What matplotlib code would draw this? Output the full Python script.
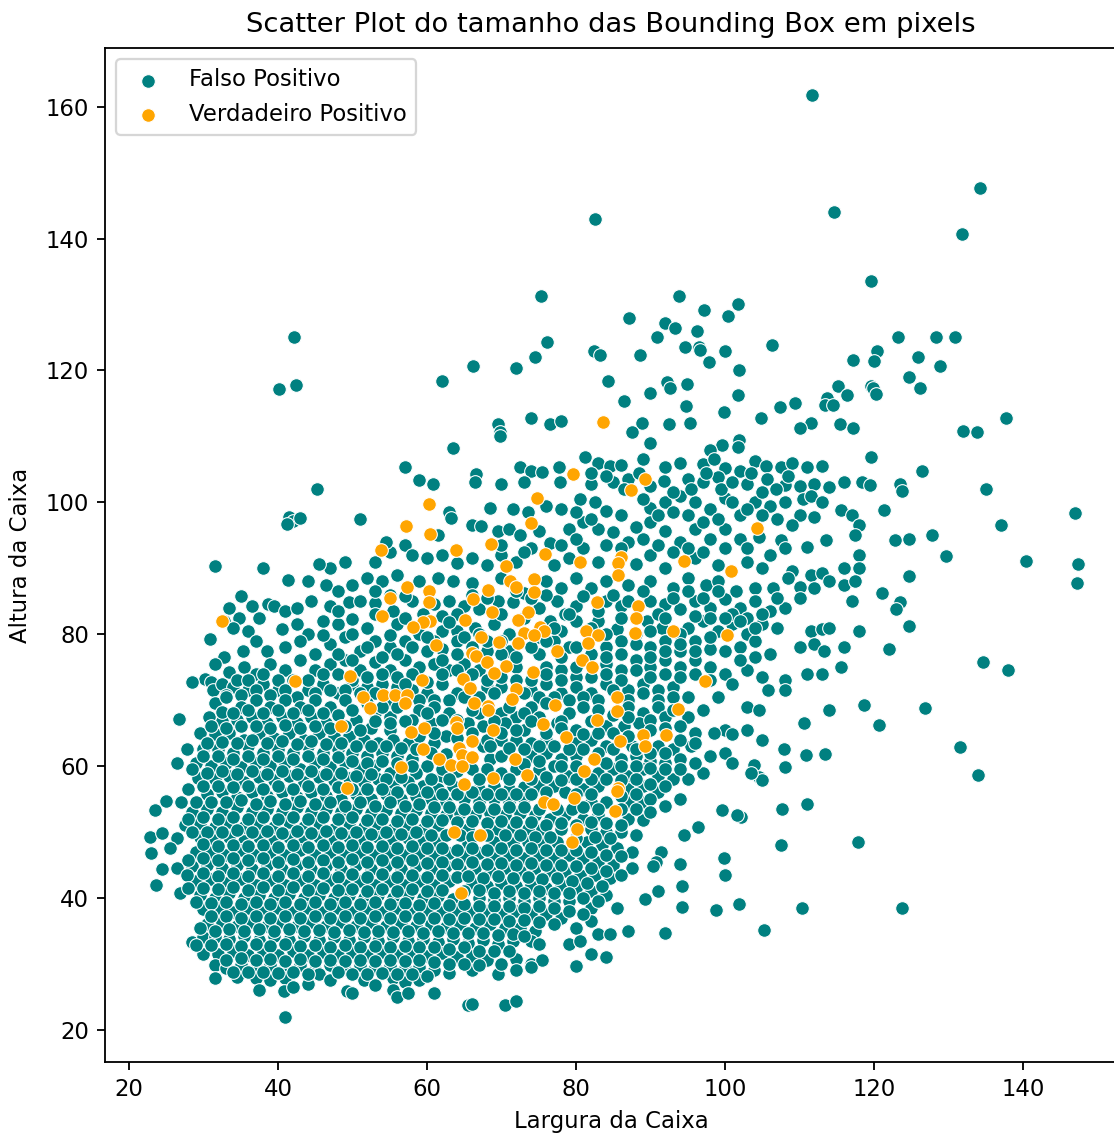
# scatter of bounding box sizes, false vs true positives
import matplotlib
matplotlib.use("Agg")
import matplotlib.pyplot as plt
import numpy as np

TEAL = "#008080"
ORANGE = "orange"

# (largura, altura), split by area of the cloud
fp_topo = [(111.7,161.8),(134.2,147.7),(82.6,142.9),(114.6,144),(131.8,140.7),(119.6,133.5),(75.3,131.3),(93.8,131.3),
    (101.8,130),(97.2,129.2),(87.1,128),(100.4,128.3),(92,127.2),(93.3,126.5),(96.2,126),(90.9,125),(42.1,125.1),
    (123.2,125),(128.3,125),(130.9,125),(76.1,124.3),(94.6,123.6),(96.5,123.6),(96.7,123.1),(106.3,123.9),(100,123),
    (82.4,123),(83.2,122.4),(88.6,122.4),(74.5,122.1),(120.4,122.9),(120,121.5),(117.2,121.6),(125.9,122.1),
    (66.2,120.6),(71.9,120.4),(97.9,121.2),(101.9,120.1),(128.9,120.6),(124.7,119),(84.3,118.4),(62,118.4),
    (40.1,117.2),(42.4,117.8),(115.2,117.6),(126.2,117.4),(119.6,117.6),(119.9,117.3),(120.2,116.4),(92.2,118.3),
    (92.6,117.4),(94.9,118),(89.9,116.5),(86.4,115.3),(101.8,116.3),(113.7,115.8),(113.4,114.7),(114.5,114.7),
    (116.4,116.3),(107.4,114.4),(109.4,115.1),(94.8,114.6),(99.9,113.7),(104.8,112.8),(137.7,112.8),(74,112.8),
    (76.5,111.8),(78,112.3),(88.9,112),(87.5,110.6),(92.5,111.8),(95.3,112),(111.6,112),(115.4,111.8),(110,111.2),
    (69.5,111.8),(69.8,110.6),(69.8,110),(131.9,110.8),(133.8,110.6),(117.2,111.3),(89.9,109),(101.9,109.5),
    (101.8,108.4),(99.6,108.7),(98,108),(63.5,108.3),(119.6,106.8),(126.4,104.7),(135,102),(45.2,102),
    (123.5,102.7),(123.8,101.7),(137,96.6),(146.9,98.4),(140.4,91.1),(147.4,90.7),(147.2,87.7),(127.8,95),
    (129.7,91.8),(121.4,98.8),(124.7,94.5),(122.8,94.2),(31.5,90.4),(38,90),(124.7,88.8),(121,86.2),(123.5,84.8),
    (123,83.8),(124.7,81.2),(122,77.8),(118,80.5),(134.6,75.7),(138,74.6),(126.8,68.8),(131.5,62.9),(134,58.7),
    (123.8,38.5),(117.8,48.5),(110.3,38.5),(105.2,35.1),(107.5,48),(111,54.3),(107.6,53.4),(98.8,38.2),(99.9,46),
    (100,43.5),(101.9,39),(94.2,38.6),(94.2,41.8),(92,34.7),(91,41),(89.2,39.8),(120.6,66.2),(118.7,69.2),(114,68.5),
    (110.6,66.5),(113.4,61.8),(110.8,61.7),(107.9,62.6),(108,59.8),(103.9,60.2),(104.5,58.4),(105,57.8),(102.2,52.3),
    (101.6,52.5),(99.6,53.3),(96.4,50.7),(94.5,49.5),(91.4,47),(90.7,45.5),(90.3,44.8),(93.9,45.2)]

fp_meio_alto = [(57,105.3),(72.5,105.3),(74,104.8),(75.5,104.6),(77.7,105.3),(81.2,106.8),(83,106),(84.5,105.5),(86,105.7),
    (89,106.5),(92,105.4),(94,105.9),(97,105.8),(98.5,106.5),(100,105.2),(102,104.7),(104,106.2),(105.5,105.5),(107.5,105.4),
    (109,106),(111,105.4),(113,105.5),(59,103.3),(60.8,102.7),(66.6,104.3),(66.5,103),(70,102.8),(73,103),(77.9,103),
    (82,102.8),(85,103),(87,103.5),(91.8,103.2),(95,103.5),(97,103),(99,103.8),(103,102.7),(105.7,103.5),(108,102.6),
    (110,102.4),(112,102.7),(114,102.3),(116,103),(118.4,103),(119.5,102.6),(68.5,99.2),(71.6,99),(73.5,98.5),(76,99.5),
    (78,99),(80.5,100.5),(82.5,100),(84,98.7),(86,98),(90,99.2),(92,100),(94,101),(96,100),(98,99),(100,100.7),(102,98),
    (104,100),(106,99.5),(108,100),(110,98),(112,97.8),(115.5,98.8),(117,98),(118,96.5),(41.5,97.7),(42,97.1),(43,97.6),
    (41.2,96.7),(51,97.4),(66,96.6),(67.2,96.4),(63,98.5),(63.2,97.6),(61.5,95),(69.5,95.7),(71,96),(72.5,95),(75,95.7),
    (79,96),(81,97),(83,96),(85,95.5),(88,96.2),(90,97),(92,95.6),(94,94),(96,96),(98,94.5),(100,96),(102,94.5),(104.5,94.8),
    (107.5,94.2),(108,93),(111,93.2),(113.5,94.3),(117.5,95),(118,92),(49,91),(47,90),(53,91),(55,92.5),(54.5,94),(57,93.5),
    (58,92),(60,91.5),(62,92),(64,90.8),(66,91.5),(68,90.5),(70,92),(72,91),(74,93),(77,90.5),(79,91.5),(81,93),(83,91),
    (88,90.7),(90,92),(92,90),(96,91.5),(99,90.5),(103,91),(105,90),(109,89.5),(111.5,89),(113,89.2),(116,90),(118,90),
    (114,88),(116,87.5),(117.5,88),
    (82,104.5),(84,104),(86.5,102),(88.5,104.5),(90,102.5),(93,101.5),(95.5,102),(97.5,104.5),(99.5,102),(101,103),(103.5,104.5),
    (105,101.5),(106.8,102),(108.5,104),(110.5,100.5),(111.5,101),(113,100),(89,100.5),(91,98),(93,98.5),(95,98),(97,97),(99,97.5),
    (101,100),(103,99),(105,98),(107,97.5),(109,96.5),(80,98.5),(82,97.5),(87,94),(89,94.5),(91,93.5),(93,92.5),(95,93),(97,92.5),
    (100,93),(103,93),(106,92),(70,93.5),(73,92.5),(76.5,93.8),(78,93.5),(80,94.5),(84,93.5),(86,93)]

fp_meio = [(41.3,88.2),(45.5,90.7),(44,88),(46.5,87.5),(48,86.5),(50,87.5),(52,88.5),(54,88),(56,89),(59,88),(61.5,88.5),(63.5,88),
    (66,87.8),(70,88.5),(73,86.2),(76,88),(78,87),(80,88.5),(82,87),(84,88),(87,87.5),(90,88),(93,87),(95,88.5),(97.5,87.5),(99,88),
    (101.5,86.5),(104,87),(106.5,87),(108.5,88.5),(110,87.2),(112,87),(35,85.8),(36.5,84.3),(38.7,84.5),(39.5,84.3),(41,83.5),(42.5,84),
    (44.5,85),(47,84.2),(49.5,84.8),(51,85),(53,84.7),(55.5,83.5),(58,85),(61,84.5),(63,85),(65,84.2),(67,83.8),(69.5,85),(71.5,84.8),
    (75,84),(77.5,85),(80,84.3),(84,85),(86,84.3),(90,85),(92,84.5),(94,83.8),(96,85),(98,84),(100,85.3),(102,84),(104,85),(106,83.5),
    (108,84),(110,85.5),(117,85),(33.5,84),(32.8,82),(34.8,82.5),(34,81),(36,80.5),(37.5,82.5),(40.5,80.8),(42.5,81.5),(44,80),(46,82),
    (48,81.5),(50,82.3),(52,81),(56,81.5),(59,80),(62,80.5),(64,80.5),(66.5,81),(69,81.5),(71,80),(76.5,82),(78,80.5),(80,82),(83,82),
    (85.5,80.8),(89.5,82),(91.5,81),(95,81),(97,82),(99,80.5),(101,81.5),(103,80),(105,81.5),(107,81),(111.5,80.5),(113,80.8),(114,81),
    (30.9,79.2),(35.3,77.5),(32.8,76.5),(37,79),(38.5,77.5),(41,78),(43,79),(45,77),(47,78.5),(49,79.5),(51,77.5),(53,79),(55,78),(57,79),
    (60,77.5),(62,77.8),(64,79),(68,77.5),(71,77.5),(75,77),(77,79),(79,78),(84,78),(86,79),(90,78),(92,79),(94,77.5),(96,79),(98,77.8),
    (102,78),(104,79),(106,77),(110,78),(112,78.5),(113.3,77.5),(116,78),(31.5,75.5),(33.5,74.3),(35.5,75),(37,74),(39,75.5),(41,74.5),
    (43,76),(45,74.5),(47,75.5),(49,76),(51,74.5),(53,75.8),(55,74.5),(57,76),(59,75),(61,75.5),(63,74.5),(65,75.5),(67,74.5),(72,75),
    (76,75),(78,74.5),(80,73.5),(84,75.5),(86,74.5),(88,76),(90,75),(92,76),(94,75),(96,76),(98,75),(100,74),(103,74.5),(105,73.5),
    (108,73),(111,74),(113,74),(115.5,75),(30.2,73.2),(31,72.8),(31.3,71.5),(32.5,72.5),(34,72),(36,71.5),(38,72.5),(40,71.5),(44,71.5),
    (46,72.5),(48,71),(50,72.5),(52,72),(54,72.5),(56,72),(58,71.5),(60,71),(62,72.5),(64,71),(68,72),(70,72),(74,71.5),(76,72.5),(78,71),
    (80,72),(82,71),(84,72.5),(87,71.5),(89,72.5),(91,71.5),(93,72),(95,70.5),(99,70.5),(101,72.5),(105.8,71.5),(108,71.5),
    (53,86.5),(55,86),(57,85.8),(59.5,83),(62,82.8),(64,83),(66,86),(68,85.5),(70,83),(72,86.5),(74,85.5),(76,86),(78.5,83),(81,85.8),
    (83,83.5),(85,86),(87,85),(89,86.5),(91,83),(93,85.5),(95,86.5),(97,85.5),(99,86.5),(101,83),(103,82.5),(105,83),(107,85.5),
    (48,83.5),(50,80),(53,83),(55,79.8),(57,82.5),(61,79),(63,81.8),(65,79.5),(67,80),(70,79),(73,82.5),(75,79.5),(77,81),(79,83),
    (82,81),(84,80),(86,82.5),(88,80),(90,80.5),(92,82.5),(94,80),(96,82.8),(98,82.5),(100,82.5),(102,82),(104,81),
    (46,79.8),(48,77),(50,76),(52,78),(54,76.5),(56,77),(58,78),(60,79.5),(62,76),(64,77),(66,78),(68,79),(70,77),(72,76.5),(74,78),
    (76,79),(78,76.5),(80,78),(82,77),(84,76.5),(86,77),(88,78.5),(90,76.5),(92,77.5),(94,78.5),(96,77.5),(98,79.5),(100,77.5),(102,76),
    (104,76.5),(34.5,73),(36,73),(38,74),(40,73),(42,73),(44,73),(46,74),(48,74),(50,73),(52,73.5),(54,74),(56,73.5),(58,74),(60,72.8),
    (62,74),(64,74.5),(66,74),(68,73),(70,73.5),(72,73),(74,73),(76,74),(78,73),(80,75),(82,73.5),(84,74),(86,73),(88,74.5),(90,73.5),
    (92,74),(94,73.5),(96,74),(98,73),(33,70.8),(35,70.8),(37,71.5),(39,70.8),(41,71.5),(42.5,70.5),(45,71),(47,71.5),(49,71.5),(51,71),
    (53,71),(55,70),(57,72.5),(59,70),(61,70),(63,70),(65,70.5),(67,70.5),(69,71),(73,71),(75,70.5),(77,70.5),(79,70),(81,70.5),(83,70),
    (85,71.5),(87,70),(89,71),(91,70),(93,70.5)]

fp_denso = [(28.5,72.8),(31.5,69.5),(33,70.5),(35,69),(37,70),(39,69),(41,70),(43,69),(45,70),(47,69),(49,70),(53,68),(55,67.5),(59,68.5),
    (61,69),(63,68),(67,68),(70,68),(72,67.5),(74,69),(79,68),(81,69),(83,68.5),(87,69),(89,68),(91,69),(95,67.5),(97,68.5),(100,65.5),(103,69),(104.5,68.5),
    (26.7,67.2),(30.8,67.5),(32.5,66.8),(34.5,67),(36.5,67.5),(38.5,66.5),(40.5,67.5),(42.5,66.5),(44.5,67.5),(46.5,66.5),(50.5,67),(52.5,65.8),(55,65.5),
    (60.5,66.5),(62.5,64.5),(65.5,66.5),(67.5,66),(70.5,66.5),(73,65.5),(77.5,66.5),(80,65.5),(84,66),(86.5,66),(88.5,66.5),(90,67),(94,66),(96,65),(98.5,65),
    (101,64.8),(103,65.5),(105,64),(29.5,65),(31.5,64.8),(33.5,65),(35.5,64),(37.5,65),(39.5,64.2),(41.5,65),(43.5,64),(45.5,65),(47.5,64.5),(49.5,64.5),
    (51.5,64),(53.5,63.5),(55.5,64),(57.5,63.5),(61,63.5),(67.5,63),(70,64),(72,64),(74,63.5),(76,64),(80,63.5),(82,64),(84,63),(87.5,63),(91,63),(93,62.5),
    (95.5,63),(98,61.5),(100,62),(27.8,62.5),(30,62.5),(32,62.5),(34,62),(36,63),(38,62),(40,62.5),(42,62),(44,63),(46,62),(48,62.5),(50,62),(52,61.5),(54,62),
    (56,61.5),(58,61),(60,60),(68.5,61),(70,61.5),(74,61.5),(76,62),(78,61),(80,61.5),(86,61),(88,61.5),(90,60.8),(92,60.5),(97,59),(101,60.5),(103.5,59),
    (26.5,60.5),(29,60.5),(31,60),(33,60.5),(35,59.8),(37,60.5),(39,60),(41,60.5),(43,59.5),(45,60.5),(47,59.8),(49,60.5),(51,59.5),(53,60),(55,59),(58.5,59),
    (62,58.5),(66,59.5),(70,59),(72,59.5),(75,59.5),(77,60),(79,58.5),(83,59),(85,59.5),(87,58.5),(89,59.5),(91,58.5),(93,58),(95,58),
    (29.3,58.2),(31.5,58),(33.5,58.5),(35.5,57.5),(37.5,58.3),(39.5,57.8),(41.5,58.5),(43.5,57.5),(45.5,58.3),(47.5,57.8),(49.5,58.2),(51.5,57.5),(53.5,58),
    (55.5,57),(57.5,57.5),(59.5,57),(61.5,56.5),(63.5,57),(67,56.5),(69,57),(71,56.5),(73,56.8),(75,57),(77,57),(81,56.5),(83,57),(87,56.5),(89,57),(91,56),
    (94,55),(25,54.7),(27,54.5),(30.5,55.8),(32.5,56),(34.5,55.3),(36.5,56),(38.5,55.5),(40.5,56),(42.5,55.3),(44.5,56),(46.5,55.5),(48.5,55),(50.5,55.8),
    (52.5,55),(54.5,55.8),(56.5,55),(58.5,55.5),(60.5,55),(62.5,54.5),(65,55),(67,54.5),(69,55),(71,54.5),(73,55),(78.5,56),(82,54.5),(84,54.5),(87,54.5),
    (89,54.5),(92,54),(23.5,53.3),(28.5,53),(30.5,53.5),(32.5,53),(34.5,53.8),(36.5,53),(38.5,53.5),(40.5,53),(42.5,53.8),(44.5,53),(46.5,53.5),(48.5,53),
    (50.5,53.5),(52.5,52.8),(54.5,53.3),(56.5,52.8),(58.5,53.3),(60.5,52.8),(62.5,52.5),(64.5,52.8),(66.5,52.5),(68.5,52.8),(70.5,52.5),(72.5,52.8),(74.5,52.5),
    (76.5,52),(78.5,52.5),(81,52),(83,52.5),(87,52),(89,51.8),(27.5,51),(29.5,51.3),(31.5,50.8),(33.5,51.5),(35.5,50.8),(37.5,51.3),(39.5,50.8),(41.5,51.5),
    (43.5,50.8),(45.5,51.3),(47.5,50.5),(49.5,51.3),(51.5,50.8),(53.5,51),(55.5,50.5),(57.5,51),(59.5,50.5),(61.5,51),(65.5,50.5),(69.5,50.5),(71.5,50.8),
    (73.5,50.5),(75.5,50.5),(78,50.5),(82,50.5),(84,50),(86,50),(88,49.5),(22.9,49.2),(24.5,49.8),(26.5,49),(29.5,49.3),(31.5,48.8),(33.5,49.3),(35.5,48.6),
    (37.5,49.2),(39.5,48.6),(41.5,49.3),(43.5,48.6),(45.5,49.2),(47.5,48.6),(49.5,49.2),(51.5,48.6),(53.5,49.2),(55.5,48.6),(57.5,49),(59.5,48.5),(61.5,48.5),
    (65.5,48.3),(69,48.5),(71.5,48.3),(73.5,48.5),(75.5,48.3),(77.5,48.5),(81.5,48.5),(83.5,48),(85.5,47.5),(87.5,47),(23,46.8),(25.5,47.5),(29,47),(31,47),
    (33,46.5),(35,47.2),(37,46.5),(39,47),(41,46.5),(43,47.2),(45,46.5),(47,47),(49,46.5),(51,47),(53,46.5),(55,47),(57,46.5),(59,46.8),(61,46.3),(63,46.8),
    (65,46.3),(67,46.8),(69,46.3),(71,46.5),(73,46),(75,46.5),(77,46),(79,46.5),(81,46),(83,45.5),(85,45),(87.5,44.5),(26.5,44.5),(24.5,44.3),(28.5,44.8),
    (30.5,45),(32.5,44.5),(34.5,45),(36.5,44.3),(38.5,45),(40.5,44.3),(42.5,45),(44.5,44.3),(46.5,44.8),(48.5,44.3),(50.5,45),(52.5,44.3),(54.5,44.8),(56.5,44.3),
    (58.5,44.8),(60.5,44.3),(62.5,44.8),(64.5,44.3),(66.5,44.5),(68.5,44),(70.5,44.5),(72.5,44),(74.5,44.5),(76.5,44),(78.5,44),(80.5,43.5),(82.5,43.5),(84.5,43),
    (23.6,42),(29,42.5),(31,42.8),(33,42.2),(35,42.8),(37,42),(39,42.7),(41,42),(43,42.7),(45,42),(47,42.7),(49,42),(51,42.5),(53,42),(55,42.5),(57,42),(59,42.5),
    (61,42),(63,42.5),(66,42.2),(68,41.8),(70,42.2),(72,41.8),(74,42),(76,41.5),(78,42),(80,41.5),(82,41),(84,40.5),(26.8,40.8),(29.5,40.5),(31.5,40),(33.5,40.7),
    (35.5,40),(37.5,40.5),(39.5,40),(41.5,40.6),(43.5,40),(45.5,40.5),(47.5,40),(49.5,40.5),(51.5,40),(53.5,40.5),(55.5,40),(57.5,40.5),(59.5,40),(61.5,40.3),
    (63.5,39.8),(67,40),(69,39.7),(71,40),(73,39.5),(75,40),(77,39.5),(79,39.5),(82,38.5),(85.5,38.5),(30,38.3),(32,38.5),(34,37.8),(36,38.5),(38,37.8),(40,38.4),
    (42,37.8),(44,38.4),(46,37.8),(48,38.4),(50,37.8),(52,38.4),(54,37.8),(56,38.4),(58,37.8),(60,38.2),(62,37.8),(64,38.2),(66,37.8),(68,38),(70,37.5),(72,38),
    (74,37.5),(76,37.5),(78,37),(82,36.5),(30.5,36),(32.5,36.3),(34.5,35.8),(36.5,36.4),(38.5,35.7),(40.5,36.3),(42.5,35.7),(44.5,36.3),(46.5,35.7),(48.5,36.3),
    (50.5,35.7),(52.5,36.3),(54.5,35.7),(56.5,36.2),(58.5,35.7),(60.5,36),(62.5,35.6),(64.5,36),(66.5,35.5),(68.5,36),(70.5,35.5),(72.5,35.5),(74.5,35),(80,35.5),
    (83,34.5),(84.5,34.5),(87,35),(28.5,33.3),(30,34),(31.5,34),(33.5,33.7),(35.5,34.2),(37.5,33.6),(39.5,34.2),(41.5,33.6),(43.5,34.2),(45.5,33.6),(47.5,34),
    (49.5,33.6),(51.5,34),(53.5,33.5),(55.5,34),(57.5,33.5),(59.5,33.8),(61.5,33.3),(63.5,33.8),(65.5,33.2),(67.5,33.6),(69.5,33),(71.5,33.5),(74,33.5),(75,33),
    (79,33),(80.5,33.5),(30,31.5),(32,31.5),(34,32),(36,31.3),(38,32),(40,31.3),(42,32),(44,31.3),(46,31.8),(48,31.3),(50,31.8),(52,31.3),(54,31.8),(56,31.3),
    (58,31.7),(60,31.2),(62,31.6),(64,31),(66,31.2),(68,30.5),(72,30.7),(74,30),(75.5,30.5),(82,31.5),(84,31),(31.5,29.8),(33,29.3),(35,29.8),(37,29.3),(39,29.8),
    (41,29.5),(43,29.8),(45,29.2),(47,29.8),(49,29.2),(51,29.8),(53,29.5),(55,29.7),(57,29.3),(59,29.5),(61,29),(63,28.6),(66,29),(69.5,28.5),(72,29),(74,29.5),
    (80,29.7),(31.5,27.8),(34.5,28),(37,27.8),(39,27.5),(41,27.8),(45.5,28.5),(47,27.5),(51.5,27.6),(53,26.8),(55.5,27.8),(57,27.3),(59,27.5),(37.5,26),(40.8,25.8),
    (42,26.5),(44,27),(49.3,25.8),(50,25.5),(55.5,26),(56,25),(57.5,25.5),(61,25.5),(65.5,23.8),(66,23.9),(70.5,23.8),(72,24.4),(41,22)]

# more of the packed core, between the rows above
fp_nucleo = [(32.5,68.2),(34,68),(36,68.5),(38,68),(40,68.5),(42,68),(44,68.5),(46,68),(48,67.8),(50,68.5),(52,69.5),(54,69),(56,69),(58,67),(60,68),(62,67),(64,67),(66,68.5),
    (69,66.8),(71,69),(73,68),(75,67.5),(76,69.5),(78,66.8),(82,66.8),(85,67.8),(87,67.5),(92,67.5),(93,68.5),(31,66),(33,65.8),(35,66),(37,66),(39,65.7),(41,66.2),(43,65.8),
    (45,66),(47,65.7),(49,66),(51,65.5),(53,66.8),(55,66.5),(57,66.8),(59,64.5),(61,65),(64,64.3),(66,65),(68,64),(70,65),(72,65.5),(74,66.8),(76,65),(78,65.7),(81,64.8),(83,65),
    (85,65),(87,64.5),(90,65.5),(92,65.8),(94,64),(96,63.5),(30.5,63.5),(32.5,63.7),(34.5,63.5),(36.5,64),(38.5,63.5),(40.5,63.8),(42.5,63.3),(44.5,63.8),(46.5,63.3),(48.5,63.5),
    (50.5,63),(52.5,63),(54.5,63),(56.5,62.8),(58.5,62.5),(60.5,62),(62.5,61.8),(68.5,63),(71,62.8),(73,62.5),(75,63),(77,63),(79,62.5),(81,62.5),(83,62),(85,62.5),(88,62.5),(90,62),
    (92,62),(94,61),(96,60.5),(28.5,59.5),(30,61.5),(32,61.5),(34,61),(36,61.5),(38,61),(40,61.5),(42,61),(44,61.5),(46,61),(48,61.3),(50,60.8),(52,60.5),(54,60.8),(56,60.5),(58,60),
    (62,59.5),(64,59.3),(68,59.5),(73,60.3),(75,60.8),(78,60),(80,60),(84,60.5),(86,60),(88,60),(90,59.7),(92,59.5),(94,59.5),(30.5,59),(32.5,59.2),(34.5,58.8),(36.5,59.3),(38.5,58.8),
    (40.5,59.3),(42.5,58.8),(44.5,59.3),(46.5,58.8),(48.5,59),(50.5,58.5),(52.5,58.8),(54.5,58),(56.5,58.3),(60.5,58),(63,58),(67,58),(71,58),(74,58),(76,58.3),(78,57.8),(80,58),
    (82,58),(84,58),(86,57.8),(88,58),(90,57.3),(92,57),(28,56.5),(30,57),(32,57),(34,56.8),(36,57),(38,56.5),(40,57),(42,56.5),(44,57),(46,56.5),(48,56.8),(50,56.5),(52,56.5),
    (54,56.5),(56,56),(58,56.5),(60,56),(62,55.8),(64,55.8),(66,56),(68,55.8),(70,55.8),(72,55.8),(74,55.8),(76,56),(80,55.8),(82,55.8),(86,55.5),(88,55.8),(90,55),
    (29,54.5),(31,54.6),(33,54.5),(35,54.8),(37,54.3),(39,54.7),(41,54.2),(43,54.7),(45,54.2),(47,54.5),(49,54),(51,54.5),(53,54),(55,54.5),(57,54),(59,54.2),(61,53.8),(63,53.8),
    (65,53.5),(67,53.8),(69,53.5),(71,53.8),(73,53.8),(75,53.5),(77.5,53.5),(79.5,53.5),(81,53.8),(83,53.5),(86,53.5),(88,53.5),(90,53),(28,52),(30,52.2),(32,52),(34,52.3),(36,52),
    (38,52.3),(40,52),(42,52.3),(44,52),(46,52.3),(48,52),(50,52.2),(52,51.8),(54,52),(56,51.7),(58,52),(60,51.7),(62,51.8),(64,51.5),(66,51.7),(68,51.3),(70,51.7),(72,51.5),(74,51.5),
    (76,51),(78,51.3),(80,51),(82,51.5),(84,51.3),(86,51),(28.5,50),(30.5,50),(32.5,50),(34.5,50.3),(36.5,50),(38.5,50.2),(40.5,49.8),(42.5,50.2),(44.5,49.8),(46.5,50.2),(48.5,49.8),
    (50.5,50),(52.5,49.7),(54.5,50),(56.5,49.7),(58.5,50),(60.5,49.5),(62.5,49.5),(64.5,49.5),(66,49.3),(68,49.5),(70.5,49.5),(72.5,49.5),(74.5,49.3),(76.5,49.3),(80,49),(82.5,49.3),
    (84.5,49),(30,48.2),(32,47.8),(34,48),(36,47.8),(38,48),(40,47.7),(42,48),(44,47.7),(46,48),(48,47.7),(50,48),(52,47.7),(54,47.8),(56,47.6),(58,47.8),(60,47.5),(62,47.5),(64,47.3),
    (66,47.5),(68,47.3),(70,47.5),(72,47.3),(74,47.5),(76,47.2),(78,47.2),(80,47.2),(82,47),(84,46.5),(86,46.3),(28,45.8),(30,46),(32,45.7),(34,46),(36,45.7),(38,46),(40,45.5),(42,45.9),
    (44,45.5),(46,45.8),(48,45.5),(50,45.9),(52,45.5),(54,45.8),(56,45.5),(58,45.8),(60,45.3),(62,45.5),(64,45.2),(66,45.5),(68,45.2),(70,45.3),(72,45),(74,45.3),(76,45),(78,45),(80,44.8),
    (82,44.5),(84,44),(86,43.5),(27.8,43.5),(30,43.8),(32,43.3),(34,43.7),(36,43.3),(38,43.7),(40,43.3),(42,43.7),(44,43.3),(46,43.7),(48,43.2),(50,43.6),(52,43.2),(54,43.6),(56,43.2),
    (58,43.5),(60,43.1),(62,43.5),(64,43.2),(65.5,43.3),(67.5,43),(69.5,43.3),(71.5,43),(73.5,43.2),(75.5,42.8),(77.5,43),(79.5,42.5),(81.5,42.3),(83.5,41.8),(28,41.5),(30,41.5),(32,41.3),
    (34,41.7),(36,41.2),(38,41.6),(40,41.2),(42,41.6),(44,41.2),(46,41.5),(48,41.2),(50,41.4),(52,41.1),(54,41.4),(56,41),(58,41.3),(60,41),(62,41.2),(65,41),(67,41.2),(69,40.8),(71,41),(73,40.7),
    (75,41),(77,40.7),(79,40.7),(81,40),(83,39.5),(29,39.3),(31,39.2),(33,39.4),(35,39),(37,39.4),(39,39),(41,39.4),(43,39),(45,39.4),(47,39),(49,39.4),(51,39),(53,39.3),(55,39),(57,39.2),(59,38.9),
    (61,39.2),(63,38.9),(65,39),(67,38.8),(69,38.8),(71,38.7),(73,38.5),(75,38.7),(77,38.5),(79,38),(81,37.5),(31,37.2),(33,37.3),(35,37),(37,37.3),(39,37),(41,37.3),(43,37),(45,37.3),(47,36.9),
    (49,37.2),(51,36.9),(53,37.2),(55,36.9),(57,37.2),(59,36.9),(61,37),(63,36.8),(65,37),(67,36.8),(69,36.8),(71,36.5),(73,36.7),(75,36.3),(77,36),(29.5,35.5),(31.5,35),(33.5,35.2),(35.5,35),
    (37.5,35.2),(39.5,34.9),(41.5,35.2),(43.5,34.9),(45.5,35.1),(47.5,34.8),(49.5,35.1),(51.5,34.8),(53.5,35),(55.5,34.8),(57.5,35),(59.5,34.7),(61.5,34.9),(63.5,34.7),(65.5,34.6),(67.5,34.7),
    (69.5,34.4),(71.5,34.5),(73,34.2),(29,32.8),(31,32.8),(33,33),(35,32.7),(37,33),(39,32.7),(41,33),(43,32.7),(45,32.9),(47,32.6),(49,32.9),(51,32.6),(53,32.7),(55,32.5),(57,32.7),(59,32.5),
    (61,32.5),(63,32.3),(65,32.5),(67,32),(69,32),(71,32),(33,30.6),(35,30.8),(37,30.5),(39,30.7),(41,30.4),(43,30.7),(45,30.4),(47,30.6),(49,30.4),(51,30.6),(53,30.4),(55,30.6),(57,30.4),(59,30.5),
    (61,30.2),(63,30),(65,30),(67,29.8),(70,30),(34,28.8),(36,28.7),(38,28.7),(40,28.6),(42,28.7),(44,28.5),(48,28.7),(50,28.5),(52,28.5),(54,28.6),(56,28.5),(58,28.4),(60,28.2)]

# verdadeiros positivos
tp_pontos = [(83.6,112.1),(79.6,104.3),(87.4,101.9),(89.3,103.6),(74.8,100.7),(60.3,99.8),(57.2,96.4),(74,96.9),(104.3,96.1),
    (60.4,95.2),(63.9,92.8),(53.8,92.7),(68.6,93.6),(75.8,92.2),(86,91.7),(85.6,90.8),(80.5,91),(70.6,90.4),(94.5,91.1),
    (100.8,89.5),(85.6,89),(74.4,88.4),(71.1,88),(71.9,87.2),(68.2,86.7),(57.3,87.2),(60.3,86.6),(60.3,84.9),(55,85.5),
    (66.2,85.4),(74.4,86.4),(82.8,84.8),(88.3,84.2),(88,82.5),(54,82.8),(68.7,83.3),(73.6,83.3),(32.5,82),(60.4,82),
    (59.5,81.9),(58.1,81.1),(65.1,82.2),(72.2,82.2),(75.2,81.1),(75.7,80.4),(93,80.5),(87.9,80.1),(81.3,80.4),(82.9,79.8),
    (81.6,78.7),(100.3,79.8),(73,80.2),(74.4,79.9),(67.2,79.5),(61.2,78.4),(69.7,78.8),(72.2,78.6),(77.4,77.5),(66,77.2),
    (66.6,76.7),(68.1,75.8),(80.8,76),(82.1,75),(70.6,75.2),(69,74.1),(74.2,74.3),(49.7,73.7),(59.3,73.1),(64.8,73.2),
    (42.3,72.9),(97.3,72.9),(65.8,71.9),(71.9,71.6),(71.4,70.2),(51.4,70.5),(54.1,70.7),(55.7,70.7),(57.3,70.7),(57,69.6),
    (85.5,70.5),(66.3,69.5),(68.2,69.1),(68.2,68.5),(77.2,69.3),(52.3,68.8),(93.7,68.7),(85.5,68.4),(48.5,66.1),(63.9,66.7),
    (75.6,66.3),(82.8,67),(64,65.8),(59.6,65.7),(57.9,65.2),(68.9,65.5),(92.1,64.7),(78.7,64.4),(85.9,63.8),(89,64.7),
    (66,63.8),(89.3,63),(64.3,62.8),(59.5,62.5),(64.7,61.6),(66,61.3),(82.4,61.1),(61.6,61),(71.8,61),(63.2,60.2),(56.5,59.9),
    (64.7,60),(81.1,59.3),(73.4,58.7),(68.9,58.2),(85.6,56.7),(85.5,56.2),(65,57.2),(49.3,56.7),(79.7,55.2),(75.7,54.6),
    (76.9,54.3),(85.2,53.2),(80.1,50.5),(63.6,50),(67.1,49.6),(79.5,48.4),(64.6,40.8)]

fp = np.array(fp_topo + fp_meio_alto + fp_meio + fp_denso + fp_nucleo)
tp = np.array(tp_pontos)

W, H = 1114, 1133
DPI = 164
fig = plt.figure(figsize=(W / DPI, H / DPI), dpi=DPI)
ax = fig.add_axes([105 / W, (H - 1062) / H, 1012 / W, 1014 / H])

ax.scatter(fp[:, 0], fp[:, 1], s=36, c=TEAL, edgecolors="white", linewidths=0.48, label="Falso Positivo")
ax.scatter(tp[:, 0], tp[:, 1], s=36, c=ORANGE, edgecolors="white", linewidths=0.48, label="Verdadeiro Positivo")

ax.set_xlim(16.8, 152.6)
ax.set_ylim(15.1, 168.9)
ax.set_xticks(range(20, 141, 20))
ax.set_yticks(range(20, 161, 20))
ax.set_title("Scatter Plot do tamanho das Bounding Box em pixels", pad=7)
ax.set_xlabel("Largura da Caixa")
ax.set_ylabel("Altura da Caixa", labelpad=6)
ax.legend(loc="upper left")

fig.savefig("out.png", dpi=DPI)
